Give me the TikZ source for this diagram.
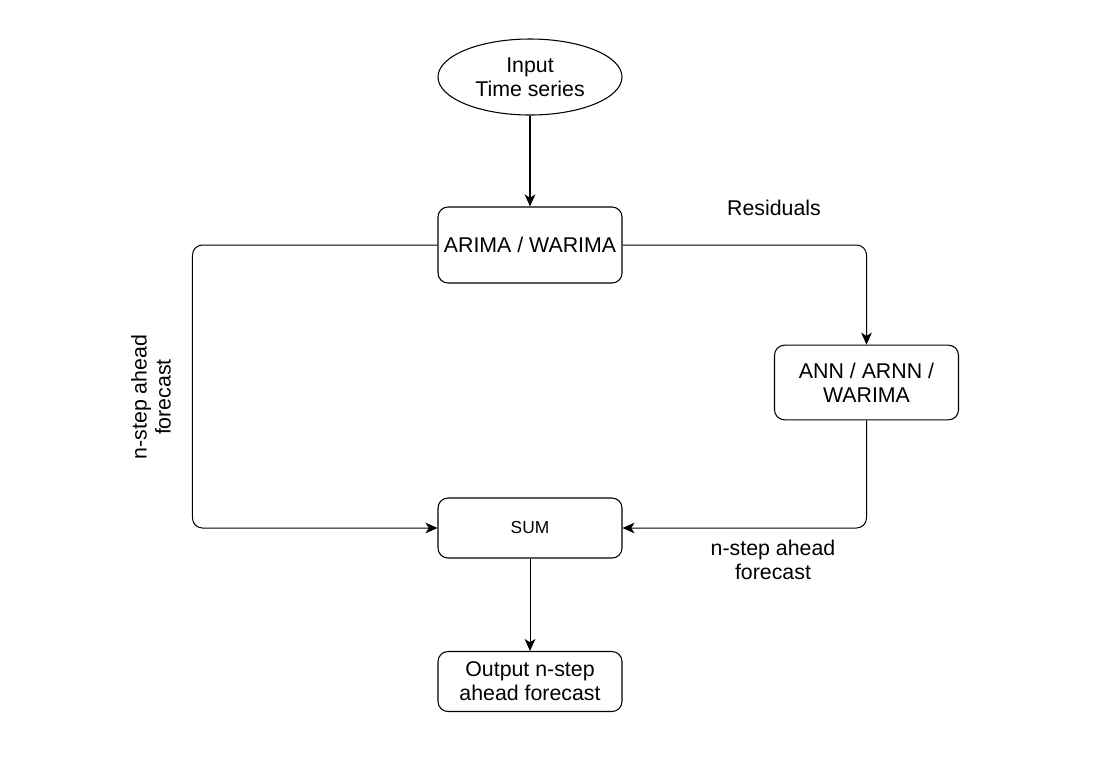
\documentclass[tikz,border=0pt]{standalone}
\usepackage{fontspec}
\setmainfont{Liberation Sans}
\usetikzlibrary{shapes.geometric, arrows.meta, positioning}

\tikzset{
    block/.style={draw, line width=0.8pt, rounded corners=7.5pt, minimum width=138pt,
                  inner sep=2pt, align=center, font=\fontsize{16}{18}\selectfont},
    terminal/.style={draw, ellipse, line width=0.8pt, minimum width=138pt, minimum height=57pt,
                  inner sep=0pt, align=center, font=\fontsize{16}{18}\selectfont},
    lbl/.style={align=center, font=\fontsize{16}{18}\selectfont},
    conn/.style={line width=0.75pt, rounded corners=7.5pt,
                 -{Stealth[length=9pt, width=8pt, inset=2.5pt]}}
}

\begin{document}
\begin{tikzpicture}[x=0.75pt, y=-0.75pt]
    \useasboundingbox (0,0) rectangle (1109,769);

    % Input
    \node[terminal] (input) at (530,77) {Input\\Time series};

    % Models
    \node[block, minimum height=57pt] (arima) at (530,245) {ARIMA / WARIMA};
    \node[block, minimum height=56pt] (ann) at (866.5,382.5) {ANN / ARNN /\\WARIMA};

    % Sum and output
    \node[block, minimum height=45pt, font=\fontsize{13}{15}\selectfont] (sum) at (530,528) {SUM};
    \node[block, minimum height=45pt] (out) at (530,681.5) {Output n-step\\ahead forecast};

    % Connectors
    \draw[conn, line width=1.5pt] (input) -- (arima);
    \draw[conn] (arima.west) -- ++(-245,0) |- (sum.west);
    \draw[conn] (arima.east) -| (ann.north);
    \draw[conn] (ann.south) |- (sum.east);
    \draw[conn] (sum) -- (out);

    % Labels
    \node[lbl] (res) at (774,208) {Residuals};
    \node[lbl, rotate=90] (fcleft) at (151,397) {n-step ahead\\forecast};
    \node[lbl] (fcright) at (773,560) {n-step ahead\\forecast};
\end{tikzpicture}
\end{document}
